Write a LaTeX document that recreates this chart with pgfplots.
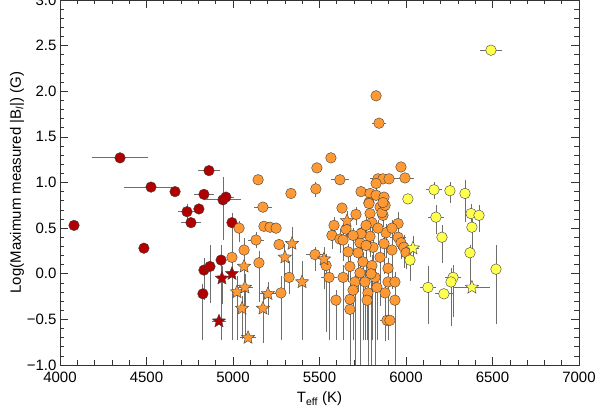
\documentclass[border=0pt]{standalone}
\usepackage{fontspec}
\setmainfont{Liberation Sans}
\usepackage{pgfplots}
\pgfplotsset{compat=1.18}
\usepackage{pgfplotstable}
\definecolor{redc}{HTML}{B00000}
\definecolor{orangec}{HTML}{FF9933}
\definecolor{yellowc}{HTML}{FFFF4D}
\definecolor{errc}{HTML}{6E6E6E}

% filled five-point star
\pgfdeclareplotmark{fstar}{%
  \pgfpathmoveto{\pgfpointpolar{90}{\pgfplotmarksize}}%
  \pgfpathlineto{\pgfpointpolar{126}{0.45\pgfplotmarksize}}%
  \pgfpathlineto{\pgfpointpolar{162}{\pgfplotmarksize}}%
  \pgfpathlineto{\pgfpointpolar{198}{0.45\pgfplotmarksize}}%
  \pgfpathlineto{\pgfpointpolar{234}{\pgfplotmarksize}}%
  \pgfpathlineto{\pgfpointpolar{270}{0.45\pgfplotmarksize}}%
  \pgfpathlineto{\pgfpointpolar{306}{\pgfplotmarksize}}%
  \pgfpathlineto{\pgfpointpolar{342}{0.45\pgfplotmarksize}}%
  \pgfpathlineto{\pgfpointpolar{18}{\pgfplotmarksize}}%
  \pgfpathlineto{\pgfpointpolar{54}{0.45\pgfplotmarksize}}%
  \pgfpathclose
  \pgfusepathqfillstroke}

\pgfplotstableread{
T L ex ep em
4081 0.53 0 0 0
4347 1.27 147 0 0
4526 0.95 142 0 0
4665 0.90 0 0 0
4861 1.13 45 0 0
4734 0.68 35 0.05 0.05
4803 0.71 0 0 0
4757 0.56 40 0 0
4832 0.87 40 0.03 0.03
4942 0.81 87 0.22 0.41
4959 0.84 30 0 0
4994 0.56 0 0.08 0.15
4485 0.28 0 0 0
4931 0.15 0 0.13 0.85
4832 0.04 0 0.10 0.30
4867 0.08 0 0.20 0.37
4826 -0.22 0 0.08 0.48
}\redcirc

\pgfplotstableread{
T L ex ep em
4936 -0.05 0 0.10 0.25
4994 0.00 0 0.35 0.70
4919 -0.52 25 0 0
}\redstar

\pgfplotstableread{
T L ex ep em
5827 1.95 0 0 0
5844 1.65 25 0 0
5566 1.27 0 0 0
5485 1.16 0 0 0
5618 1.03 35 0 0
5479 0.93 0 0.05 0.06
5971 1.17 0 0 0
5994 1.05 35 0 0
5838 1.04 30 0 0
5867 1.04 0 0 0
5902 1.04 30 0 0
5827 0.99 0 0.04 0.04
5740 0.90 0 0 0
5792 0.88 0 0 0
5827 0.86 0 0 0
5873 0.84 0 0 0
5145 1.03 0 0 0
5335 0.88 0 0 0
5173 0.73 35 0 0
5630 0.72 0 0 0
5711 0.65 0 0.05 0.08
5786 0.78 0 0 0
5867 0.73 0 0 0
5792 0.66 0 0 0
5867 0.64 0 0.07 0.10
5954 0.55 0 0.10 0.15
5035 0.50 0 0.05 0.12
5179 0.52 0 0 0
5214 0.51 0 0 0
5249 0.50 0 0 0
5133 0.37 30 0.06 0.06
5266 0.32 0 0 0
5584 0.53 0 0.06 0.10
5653 0.49 0 0.05 0.10
5572 0.42 0 0.06 0.12
5618 0.38 0 0.08 0.12
5954 0.40 30 0.06 0.10
5971 0.34 0 0.08 0.15
5988 0.29 0 0.10 0.20
6000 0.23 0 0.08 0.15
5064 0.26 0 0.10 0.35
4994 0.18 0 0.10 0.88
5150 0.12 0 0.10 0.40
5474 0.21 35 0.05 0.15
5538 0.09 0 0.10 0.70
5555 -0.04 30 0.10 0.66
5595 -0.29 0 0.08 0.41
5324 -0.04 0 0.15 0.15
5277 -0.21 0 0.15 0.49
5636 -0.04 0 0.10 0.66
5676 -0.39 0 0.10 2.00
5676 -0.28 0 0.10 2.00
5636 0.37 0 0.06 0.20
5665 0.24 0 0.06 0.30
5676 0.08 0 0.08 0.78
5705 -0.09 0 0.10 2.00
5694 -0.18 0 0.10 0.52
5746 0.45 0 0.06 0.20
5734 0.34 0 0.06 0.30
5723 0.23 0 0.08 0.40
5751 0.13 0 0.08 0.83
5763 -0.09 0 0.10 0.61
5780 -0.21 0 0.10 2.00
5775 -0.29 0 0.10 0.41
5803 0.56 0 0.06 0.12
5792 0.41 0 0.06 0.20
5809 0.29 0 0.06 0.30
5803 0.09 0 0.08 0.79
5821 -0.04 0 0.10 2.00
5832 -0.15 0 0.10 0.55
5884 0.45 0 0.06 0.25
5850 0.18 0 0.08 0.50
5879 -0.21 0 0.10 0.50
5896 0.06 0 0.08 0.40
5896 -0.09 0 0.08 0.60
5936 -0.09 0 0.08 0.50
5936 -0.29 0 0.10 2.00
5890 -0.51 25 0 0
5907 -0.51 0 0 0
5850 0.73 0 0 0
5861 0.67 0 0.05 0.05
5879 0.75 0 0 0
5867 0.78 0 0 0
5786 0.77 0 0 0
5740 0.44 0 0.05 0.15
5694 0.42 0 0.05 0.15
5734 0.01 0 0.10 2.00
5798 0.00 0 0.10 2.00
5769 0.53 0 0.06 0.15
5838 0.50 0 0.06 0.15
5919 0.50 0 0.06 0.15
5769 0.31 0 0.06 0.30
5873 0.33 0 0.06 0.30
5919 0.26 0 0.08 0.40
}\orangecirc

\pgfplotstableread{
T L ex ep em
5659 0.58 0 0.08 0.15
5341 0.33 0 0.15 0.30
5300 0.18 0 0.12 0.35
5064 0.08 0 0.12 0.45
5399 -0.09 0 0.20 0.60
5023 -0.20 0 0.15 0.50
5069 -0.15 30 0.12 0.50
5052 -0.38 0 0.10 0.30
5173 -0.38 0 0.15 0.35
5202 -0.22 30 0.10 0.20
5087 -0.70 30 0 0
5526 0.16 0 0.10 0.30
}\orangestar

\pgfplotstableread{
T L ex ep em
6491 2.45 45 0 0
6162 0.92 30 0.05 0.07
6254 0.91 0 0.07 0.10
6341 0.88 0 0.12 0.28
6011 0.82 0 0 0
6173 0.62 30 0.10 0.15
6208 0.40 0 0.10 0.25
6376 0.66 0 0.07 0.15
6422 0.64 0 0.08 0.15
6381 0.51 0 0.06 0.25
6370 0.23 0 0.05 0.35
6520 0.05 0 0.23 0.57
6127 -0.15 30 0.20 0.37
6272 -0.04 30 0.10 0.40
6260 -0.09 0 0.12 0.45
6219 -0.22 35 0 0
6023 0.15 0 0.10 0.20
}\yellowcirc

\pgfplotstableread{
T L ex ep em
6381 -0.15 87 0 0
6040 0.28 20 0.10 0.15
}\yellowstar

\pgfplotsset{
  errs/.style={
    error bars/.cd,
      x dir=both, x explicit,
      y dir=both, y explicit,
      error bar style={draw=errc, line width=0.8pt},
      error mark options={draw=errc, line width=0.8pt, mark size=2.8pt},
  },
  circ/.style={only marks, mark=*, mark size=5.3pt,
    mark options={fill=#1, draw=black!75, line width=0.4pt}},
  starm/.style={only marks, mark=fstar, mark size=7pt,
    mark options={fill=#1, draw=black!75, line width=0.4pt}},
}

\begin{document}
\begin{tikzpicture}
\useasboundingbox (-60pt,-42pt) rectangle (538pt,365pt);
\begin{axis}[
  scale only axis, width=519pt, height=365pt,
  xmin=4000, xmax=7000, ymin=-1, ymax=3,
  xtick={4000,4500,...,7000},
  xticklabels={4000,4500,5000,5500,6000,6500,7000},
  ytick={-1,-0.5,...,3},
  yticklabels={−1.0,−0.5,0.0,0.5,1.0,1.5,2.0,2.5,3.0},
  minor x tick num=4, minor y tick num=4,
  tick align=inside,
  major tick length=8pt, minor tick length=4.5pt,
  tick style={black!80, line width=0.6pt},
  axis line style={black!80, line width=0.8pt},
  tick label style={font=\fontsize{15}{18}\selectfont},
  xticklabel style={yshift=-3pt},
  label style={font=\fontsize{15}{18}\selectfont},
  xlabel={T\textsubscript{eff} (K)},
  ylabel={Log(Maximum measured |B\textsubscript{\textit{l}}|) (G)},
  xlabel style={yshift=-3pt},
  ylabel style={yshift=-4pt},
]
\addplot[circ=redc, errs] table[x=T, y=L, x error=ex, y error plus=ep, y error minus=em] {\redcirc};
\addplot[starm=redc, errs] table[x=T, y=L, x error=ex, y error plus=ep, y error minus=em] {\redstar};
\addplot[circ=orangec, errs] table[x=T, y=L, x error=ex, y error plus=ep, y error minus=em] {\orangecirc};
\addplot[starm=orangec, errs] table[x=T, y=L, x error=ex, y error plus=ep, y error minus=em] {\orangestar};
\addplot[circ=yellowc, errs] table[x=T, y=L, x error=ex, y error plus=ep, y error minus=em] {\yellowcirc};
\addplot[starm=yellowc, errs] table[x=T, y=L, x error=ex, y error plus=ep, y error minus=em] {\yellowstar};
\end{axis}
\end{tikzpicture}
\end{document}
